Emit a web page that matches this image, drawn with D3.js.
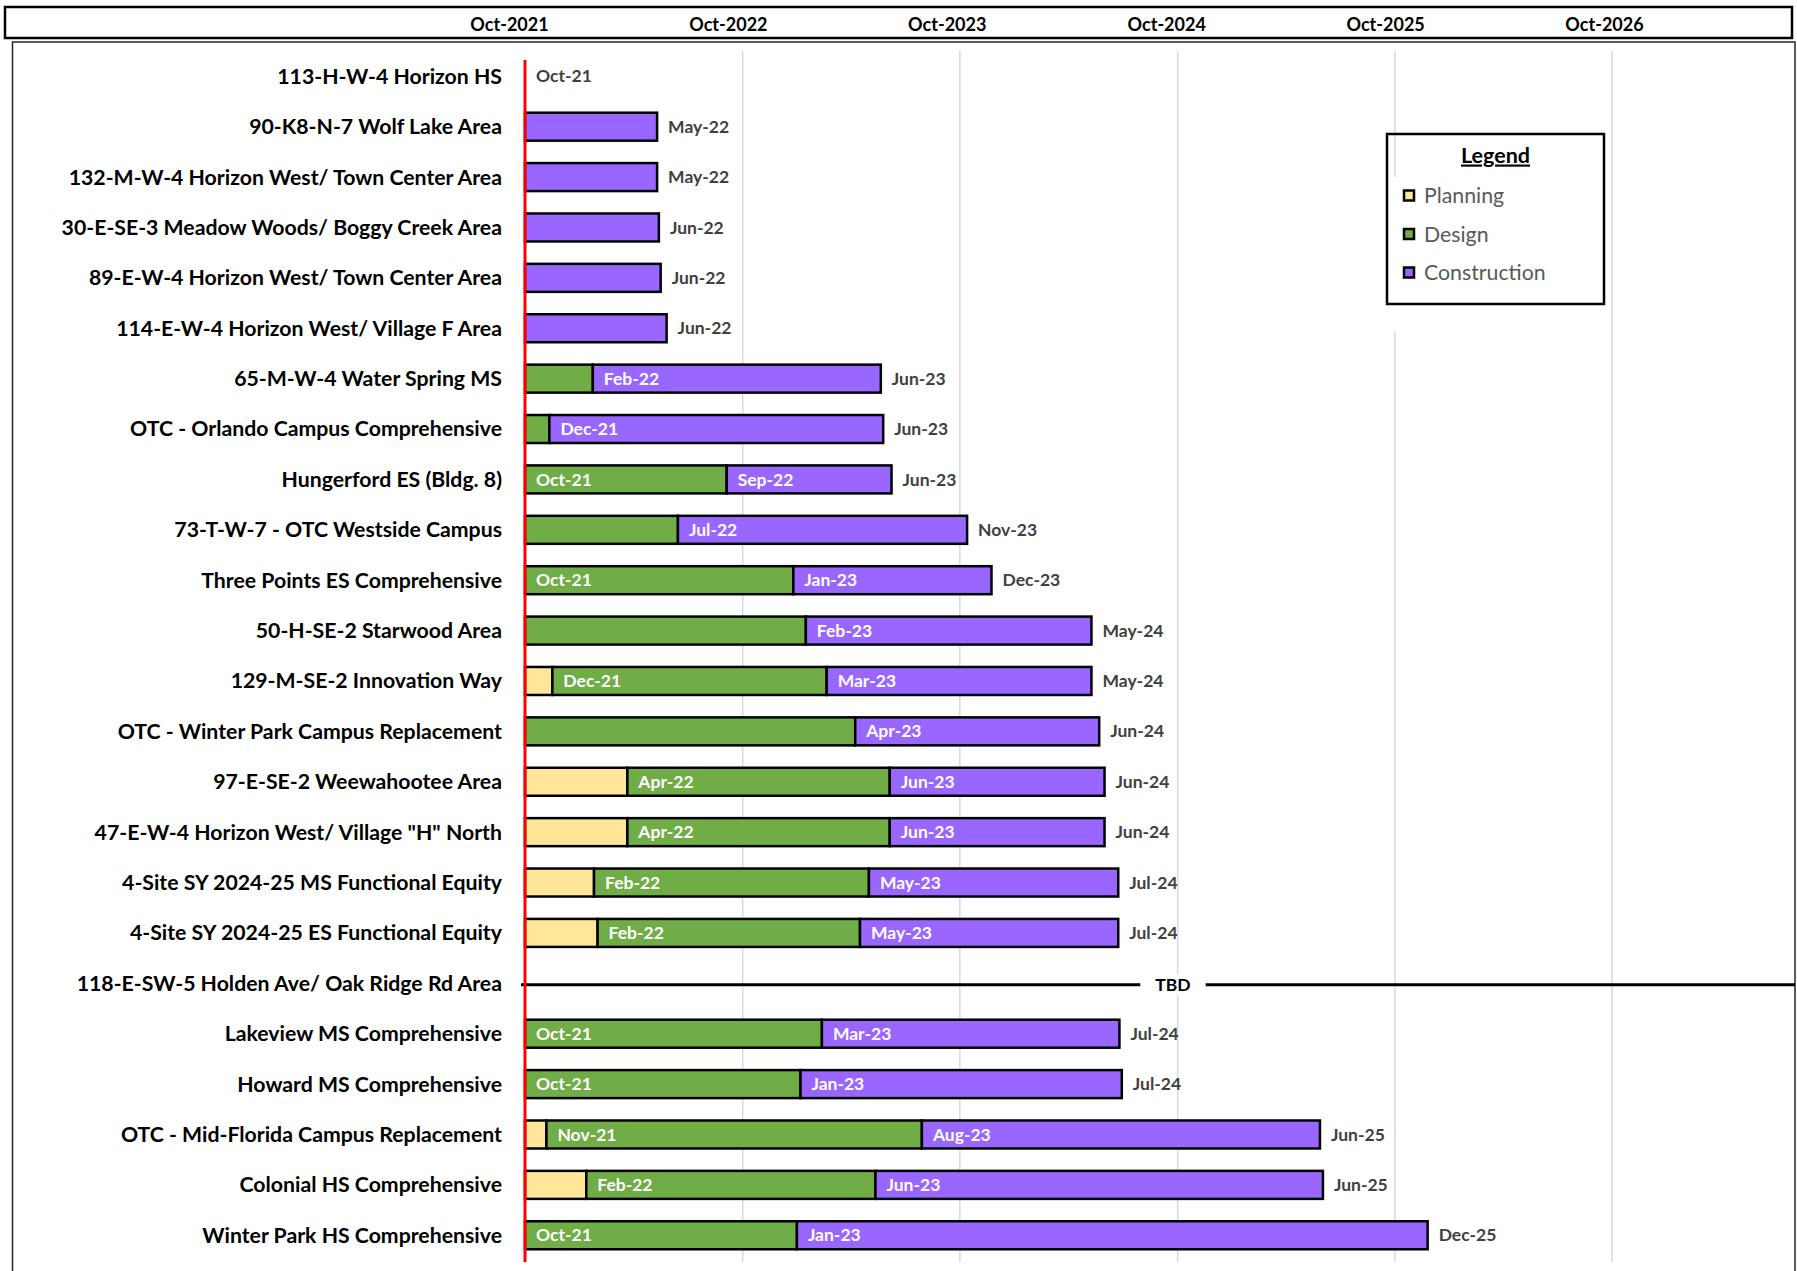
<!DOCTYPE html>
<html>
<head>
<meta charset="utf-8">
<script src="https://cdn.jsdelivr.net/npm/d3@7"></script>
<style>
  html, body { margin: 0; padding: 0; background: #fff; }
  svg { display: block; }
  text { font-family: Lato, "Open Sans", sans-serif; }
</style>
</head>
<body>
<svg id="chart" width="1797" height="1271"></svg>
<script>
// ---------------- DATA ----------------
const projects = [
  "113-H-W-4 Horizon HS",
  "90-K8-N-7 Wolf Lake Area",
  "132-M-W-4 Horizon West/ Town Center Area",
  "30-E-SE-3 Meadow Woods/ Boggy Creek Area",
  "89-E-W-4 Horizon West/ Town Center Area",
  "114-E-W-4 Horizon West/ Village F Area",
  "65-M-W-4 Water Spring MS",
  "OTC - Orlando Campus Comprehensive",
  "Hungerford ES (Bldg. 8)",
  "73-T-W-7 - OTC Westside Campus",
  "Three Points ES Comprehensive",
  "50-H-SE-2 Starwood Area",
  "129-M-SE-2 Innovation Way",
  "OTC - Winter Park Campus Replacement",
  "97-E-SE-2 Weewahootee Area",
  "47-E-W-4 Horizon West/ Village \"H\" North",
  "4-Site SY 2024-25 MS Functional Equity",
  "4-Site SY 2024-25 ES Functional Equity",
  "118-E-SW-5 Holden Ave/ Oak Ridge Rd Area",
  "Lakeview MS Comprehensive",
  "Howard MS Comprehensive",
  "OTC - Mid-Florida Campus Replacement",
  "Colonial HS Comprehensive",
  "Winter Park HS Comprehensive"
];

const startDate = "2021-10-01";

// end of the Planning phase (equal to start when there is no planning phase)
const planningEnd = [
  "2021-10-01","2021-10-01","2021-10-01","2021-10-01","2021-10-01","2021-10-01",
  "2021-10-01","2021-10-01","2021-10-01","2021-10-01","2021-10-01","2021-10-01",
  "2021-11-16","2021-10-01","2022-03-22","2022-03-22","2022-01-25","2022-01-31",
  null,"2021-10-01","2021-10-01","2021-11-06","2022-01-12","2021-10-01"
];
// end of the Design phase
const designEnd = [
  "2021-10-01","2021-10-01","2021-10-01","2021-10-01","2021-10-01","2021-10-01",
  "2022-01-23","2021-11-11","2022-09-05","2022-06-15","2022-12-26","2023-01-16",
  "2023-02-20","2023-04-09","2023-06-06","2023-06-06","2023-05-02","2023-04-17",
  null,"2023-02-12","2023-01-07","2023-07-30","2023-05-13","2023-01-01"
];
// end of the Construction phase
const constructionEnd = [
  "2021-10-01","2022-05-11","2022-05-11","2022-05-14","2022-05-17","2022-05-27",
  "2023-05-22","2023-05-26","2023-06-09","2023-10-14","2023-11-24","2024-05-10",
  "2024-05-10","2024-05-23","2024-06-01","2024-06-01","2024-06-24","2024-06-24",
  null,"2024-06-26","2024-06-30","2025-05-29","2025-06-03","2025-11-26"
];

const designLabels = [
  "","","","","","",
  "","","Oct-21","","Oct-21","",
  "Dec-21","","Apr-22","Apr-22","Feb-22","Feb-22",
  "","Oct-21","Oct-21","Nov-21","Feb-22","Oct-21"
];
const constructionLabels = [
  "","","","","","",
  "Feb-22","Dec-21","Sep-22","Jul-22","Jan-23","Feb-23",
  "Mar-23","Apr-23","Jun-23","Jun-23","May-23","May-23",
  "","Mar-23","Jan-23","Aug-23","Jun-23","Jan-23"
];
const endLabels = [
  "Oct-21","May-22","May-22","Jun-22","Jun-22","Jun-22",
  "Jun-23","Jun-23","Jun-23","Nov-23","Dec-23","May-24",
  "May-24","Jun-24","Jun-24","Jun-24","Jul-24","Jul-24",
  "TBD","Jul-24","Jul-24","Jun-25","Jun-25","Dec-25"
];
const tbdLabelDate = "2024-09-24";

const headerTicks = ["2021-10-01","2022-10-01","2023-10-01","2024-10-01","2025-10-01","2026-10-01"];

const phases = ["Planning", "Design", "Construction"];
const phaseColors = ["#FFE699", "#70AD47", "#9966FF"];

// ---------------- LAYOUT ----------------
const W = 1797, H = 1271;
const parse = d3.timeParse("%Y-%m-%d");
const fmtHeader = d3.timeFormat("%b-%Y");

const svg = d3.select("#chart");
svg.append("rect").attr("width", W).attr("height", H).attr("fill", "#fff");

const plotLeft = 12.5, plotTop = 42, plotRight = 1795;
const x = d3.scaleTime()
  .domain([parse(headerTicks[0]), parse(headerTicks[headerTicks.length - 1])])
  .range([525, 1611.5]);
const xHeader = d3.scaleTime()
  .domain(x.domain())
  .range([509, 1604]);
const y = d3.scaleBand()
  .domain(projects)
  .range([51.1, 51.1 + 24 * 50.39])
  .paddingInner(0).paddingOuter(0);
const cy = p => y(p) + y.bandwidth() / 2;
const barH = 28;

const color = d3.scaleOrdinal().domain(phases).range(phaseColors);

// header box
svg.append("rect")
  .attr("x", 5).attr("y", 7).attr("width", 1787).attr("height", 31)
  .attr("fill", "#fff").attr("stroke", "#000").attr("stroke-width", 2.5);

const headerAxis = d3.axisTop(xHeader)
  .tickValues(headerTicks.map(parse))
  .tickFormat(fmtHeader)
  .tickSize(0);
const hg = svg.append("g").attr("transform", "translate(0,25)").call(headerAxis);
hg.select(".domain").remove();
hg.selectAll("text")
  .attr("y", 0).attr("dy", "0.35em")
  .style("font-family", "Lato, sans-serif")
  .style("font-weight", "700").style("font-size", "18px").attr("fill", "#000");

// plot box
svg.append("rect")
  .attr("x", plotLeft).attr("y", plotTop).attr("width", plotRight - plotLeft).attr("height", 1300)
  .attr("fill", "#fff").attr("stroke", "#262626").attr("stroke-width", 1.5);

// legend fill (behind gridlines)
const lg = { x: 1387, y: 134, w: 217, h: 170 };
svg.append("rect")
  .attr("x", lg.x).attr("y", lg.y).attr("width", lg.w).attr("height", lg.h)
  .attr("fill", "#fff");

// gridlines
const gridAxis = d3.axisBottom(x)
  .tickValues(headerTicks.slice(1).map(parse))
  .tickSize(1262 - 51)
  .tickFormat("");
const gg = svg.append("g").attr("transform", "translate(0,51)").call(gridAxis);
gg.select(".domain").remove();
gg.selectAll("line").attr("stroke", "#d9d9d9").attr("stroke-width", 1.5);

// white mask area around legend
svg.append("rect")
  .attr("x", lg.x - 7).attr("y", 177).attr("width", lg.w + 8).attr("height", 332 - 177)
  .attr("fill", "#fff");

// legend
svg.append("rect")
  .attr("x", lg.x).attr("y", lg.y).attr("width", lg.w).attr("height", lg.h)
  .attr("fill", "none").attr("stroke", "#000").attr("stroke-width", 2.5);
svg.append("text")
  .attr("x", lg.x + lg.w / 2).attr("y", 155).attr("dy", "0.35em")
  .attr("text-anchor", "middle")
  .style("font-weight", "700").style("font-size", "21.5px")
  .style("text-decoration", "underline")
  .attr("fill", "#000").text("Legend");
const li = svg.append("g").selectAll("g").data(phases).join("g")
  .attr("transform", (d, i) => `translate(${lg.x + 17},${196 + i * 38.5})`);
li.append("rect")
  .attr("x", 0).attr("y", -5.5).attr("width", 10).attr("height", 10)
  .attr("fill", d => color(d)).attr("stroke", "#000").attr("stroke-width", 2.5);
li.append("text")
  .attr("x", 20).attr("y", 0).attr("dy", "0.35em")
  .style("font-size", "21.3px").attr("fill", "#595959").text(d => d);

// category labels
svg.append("g").selectAll("text").data(projects).join("text")
  .attr("x", 502).attr("y", d => cy(d)).attr("dy", "0.35em")
  .attr("text-anchor", "end")
  .style("font-weight", "700").style("font-size", "21.25px")
  .attr("fill", "#000").text(d => d);

// build segments
const rows = projects.map((p, i) => ({
  name: p, i,
  start: parse(startDate),
  pEnd: planningEnd[i] ? parse(planningEnd[i]) : null,
  dEnd: designEnd[i] ? parse(designEnd[i]) : null,
  cEnd: constructionEnd[i] ? parse(constructionEnd[i]) : null
}));
const segments = [];
rows.forEach(r => {
  if (!r.cEnd) return;
  const parts = [
    { phase: "Planning", a: r.start, b: r.pEnd, label: "" },
    { phase: "Design", a: r.pEnd, b: r.dEnd, label: designLabels[r.i] },
    { phase: "Construction", a: r.dEnd, b: r.cEnd, label: constructionLabels[r.i] }
  ];
  parts.forEach(s => { if (+s.b > +s.a) segments.push({ ...s, name: r.name }); });
});

const bars = svg.append("g");
bars.selectAll("rect").data(segments).join("rect")
  .attr("x", d => x(d.a)).attr("width", d => x(d.b) - x(d.a))
  .attr("y", d => cy(d.name) - barH / 2).attr("height", barH)
  .attr("fill", d => color(d.phase))
  .attr("stroke", "#000").attr("stroke-width", 2.5);

// labels inside bars
svg.append("g").selectAll("text").data(segments.filter(s => s.label)).join("text")
  .attr("x", d => x(d.a) + 11).attr("y", d => cy(d.name)).attr("dy", "0.35em")
  .style("font-weight", "700").style("font-size", "17.5px")
  .attr("fill", "#fff").text(d => d.label);

// end labels
svg.append("g").selectAll("text").data(rows.filter(r => r.cEnd)).join("text")
  .attr("x", d => x(d.cEnd) + 11).attr("y", d => cy(d.name)).attr("dy", "0.35em")
  .style("font-weight", "700").style("font-size", "17.5px")
  .attr("fill", "#404040").text(d => endLabels[d.i]);

// TBD rows
rows.filter(r => !r.cEnd).forEach(r => {
  const yy = cy(r.name) + 1.5;
  svg.append("line")
    .attr("x1", x(r.start) - 4).attr("x2", plotRight)
    .attr("y1", yy).attr("y2", yy)
    .attr("stroke", "#000").attr("stroke-width", 3);
  const t = svg.append("text")
    .attr("x", x(parse(tbdLabelDate))).attr("y", yy).attr("dy", "0.35em")
    .attr("text-anchor", "middle")
    .style("font-weight", "700").style("font-size", "17.5px")
    .attr("fill", "#000").text(endLabels[r.i]);
  const bb = t.node().getBBox();
  svg.insert("rect", () => t.node())
    .attr("x", bb.x - 15).attr("y", bb.y).attr("width", bb.width + 30).attr("height", bb.height)
    .attr("fill", "#fff");
});

// today / start line
svg.append("line")
  .attr("x1", x(parse(startDate))).attr("x2", x(parse(startDate)))
  .attr("y1", 60).attr("y2", 1262)
  .attr("stroke", "#ff0000").attr("stroke-width", 3);
</script>
</body>
</html>
